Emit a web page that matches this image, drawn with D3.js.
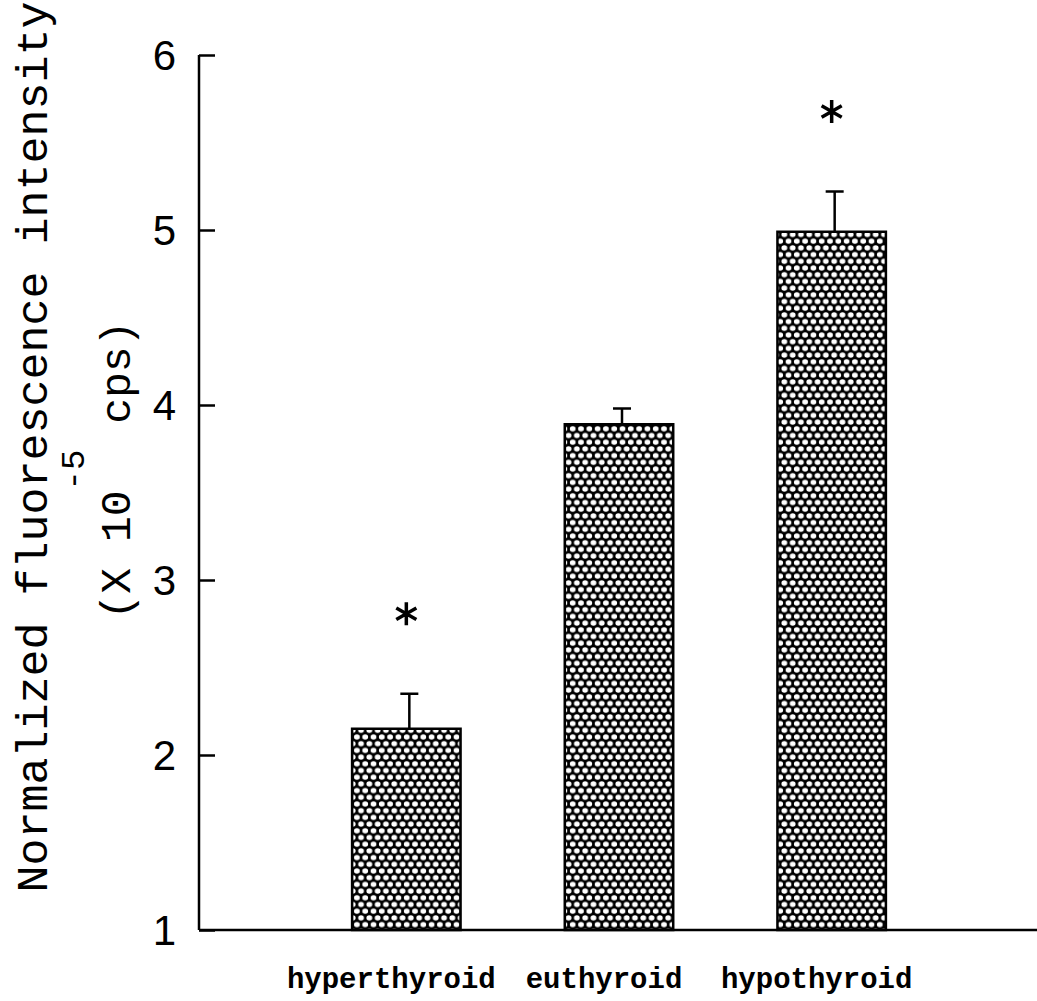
<!DOCTYPE html>
<html>
<head>
<meta charset="utf-8">
<script src="https://cdn.jsdelivr.net/npm/d3@7"></script>
<style>
  body { margin: 0; background: #fff; }
</style>
</head>
<body>
<div id="app"></div>
<script>

//
// Data
//
const groups = ['hyperthyroid', 'euthyroid', 'hypothyroid']
const means = [2.15, 3.89, 4.99]
const errors = [0.2, 0.09, 0.23]
const significant = [true, false, true]
const yTicks = [1, 2, 3, 4, 5, 6]

//
// Constants
//
const width = 1037
const height = 1001
const mono = '"Courier New", "Liberation Mono", monospace'

const x = d3.scaleBand()
  .domain(groups)
  .range([300, 938])
  .paddingInner(0.49)
  .paddingOuter(0.245)

const y = d3.scaleLinear()
  .domain([1, 6])
  .range([930, 55])

const axisX = 199

const svg = d3.select('#app').append('svg')
  .attr('width', width)
  .attr('height', height)

// crosshatch fill: black with diamond lattice of white holes
const pat = svg.append('defs').append('pattern')
  .attr('id', 'hatch')
  .attr('patternUnits', 'userSpaceOnUse')
  .attr('width', 8.3)
  .attr('height', 13.4)
pat.append('rect').attr('width', 8.3).attr('height', 13.4).attr('fill', '#000')
;[[0, 0], [8.3, 0], [0, 13.4], [8.3, 13.4], [4.15, 6.7]].forEach(([cx, cy]) => {
  pat.append('ellipse')
    .attr('cx', cx).attr('cy', cy)
    .attr('rx', 2.9).attr('ry', 2.6)
    .attr('fill', '#fff')
})

const data = groups.map((g, i) => ({ g, mean: means[i], err: errors[i], sig: significant[i] }))

// bars
svg.append('g')
  .selectAll('rect')
  .data(data)
  .join('rect')
  .attr('x', d => x(d.g))
  .attr('y', d => y(d.mean))
  .attr('width', x.bandwidth())
  .attr('height', d => y(1) - y(d.mean))
  .attr('fill', 'url(#hatch)')
  .attr('stroke', '#000')
  .attr('stroke-width', 2.5)

// error bars (upper only)
const eb = svg.append('g').attr('stroke', '#000').attr('stroke-width', 2.5)
data.forEach(d => {
  const cx = x(d.g) + x.bandwidth() / 2 + 3
  eb.append('line')
    .attr('x1', cx).attr('x2', cx)
    .attr('y1', y(d.mean)).attr('y2', y(d.mean + d.err))
  eb.append('line')
    .attr('x1', cx - 9).attr('x2', cx + 9)
    .attr('y1', y(d.mean + d.err)).attr('y2', y(d.mean + d.err))
})

// significance stars
svg.append('g')
  .selectAll('path')
  .data(data.filter(d => d.sig))
  .join('path')
  .attr('d', d3.symbol(d3.symbolAsterisk, 380))
  .attr('transform', d => `translate(${x(d.g) + x.bandwidth() / 2},${y(d.mean + d.err) - 80})`)
  .attr('fill', 'none')
  .attr('stroke', '#000')
  .attr('stroke-width', 3.5)

// y axis, ticks pointing inward
const yAxis = svg.append('g')
  .attr('transform', `translate(${axisX},0)`)
  .call(d3.axisRight(y).tickValues(yTicks).tickSize(16).tickFormat(''))
yAxis.select('.domain').remove()
yAxis.selectAll('.tick line').attr('stroke', '#000').attr('stroke-width', 2.5)

svg.append('line')
  .attr('x1', axisX).attr('x2', axisX)
  .attr('y1', y(6)).attr('y2', y(1))
  .attr('stroke', '#000').attr('stroke-width', 2.5)

svg.append('line')
  .attr('x1', axisX).attr('x2', width)
  .attr('y1', y(1)).attr('y2', y(1))
  .attr('stroke', '#000').attr('stroke-width', 2.5)

svg.append('g')
  .selectAll('text')
  .data(yTicks)
  .join('text')
  .attr('x', 176)
  .attr('y', d => y(d))
  .attr('dy', '0.36em')
  .attr('text-anchor', 'end')
  .attr('font-family', '"Liberation Sans", Arial, sans-serif')
  .attr('font-size', 42)
  .attr('fill', '#000')
  .text(d => d)

// x labels
svg.append('g')
  .selectAll('text')
  .data(groups)
  .join('text')
  .attr('x', d => x(d) + x.bandwidth() / 2 - 15)
  .attr('y', 988)
  .attr('text-anchor', 'middle')
  .attr('font-family', mono)
  .attr('font-weight', 'bold')
  .attr('font-size', 29)
  .attr('fill', '#000')
  .text(d => d)

// y title, two lines
svg.append('text')
  .attr('transform', 'translate(47,447) rotate(-90)')
  .attr('text-anchor', 'middle')
  .attr('font-family', mono)
  .attr('font-size', 45)
  .attr('fill', '#000')
  .text('Normalized fluorescence intensity')

const t2 = svg.append('text')
  .attr('transform', 'translate(130,470) rotate(-90)')
  .attr('text-anchor', 'middle')
  .attr('font-family', mono)
  .attr('font-size', 43)
  .attr('fill', '#000')
t2.append('tspan').text('(X 10')
t2.append('tspan').attr('dy', -46).attr('font-size', 34).text('-5')
t2.append('tspan').attr('dy', 46).text(' cps)')

</script>
</body>
</html>
